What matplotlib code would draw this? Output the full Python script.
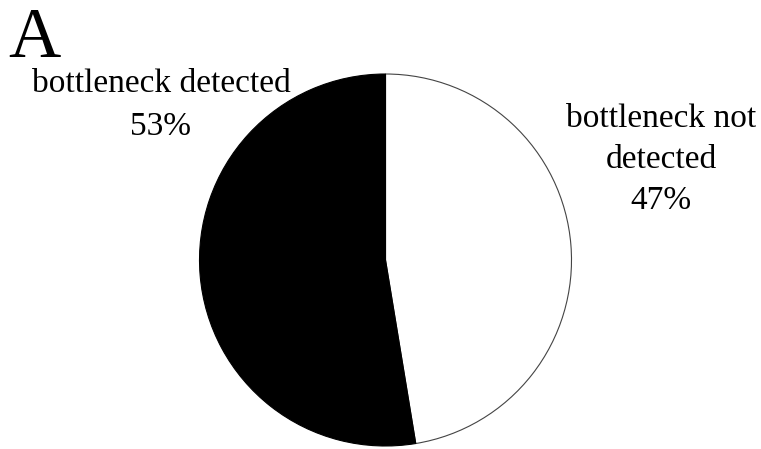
import matplotlib
matplotlib.use("Agg")
import matplotlib.pyplot as plt

labels = ["bottleneck not\ndetected", "bottleneck detected"]
values = [47.4, 52.6]
pct_labels = ["47%", "53%"]
colors = ["white", "black"]
edge_colors = ["#444444", "black"]
panel_letter = "A"

W, H = 761, 449
fig = plt.figure(figsize=(W / 100, H / 100), dpi=100)
plt.rcParams['font.family'] = ['Liberation Serif', 'DejaVu Serif']

cx, cy, r = 385.5, 260, 186
ax = fig.add_axes([(cx - r) / W, (H - cy - r) / H, 2 * r / W, 2 * r / H])
wedges, _ = ax.pie(values, colors=colors, startangle=90, counterclock=False,
                   radius=1.0, wedgeprops=dict(linewidth=0.8))
for w, ec in zip(wedges, edge_colors):
    w.set_edgecolor(ec)
ax.set_xlim(-1.0, 1.0)
ax.set_ylim(-1.0, 1.0)
ax.set_aspect("equal")
ax.axis("off")

def px(x, y):
    return x / W, 1 - y / H

fig.text(*px(661, 160), f"{labels[0]}\n{pct_labels[0]}", ha="center", va="center",
         fontsize=24, linespacing=1.45)
fig.text(*px(161, 105), f"{labels[1]}\n{pct_labels[1]}", ha="center", va="center",
         fontsize=24, linespacing=1.55)
fig.text(*px(8, 57), panel_letter, ha="left", va="baseline", fontsize=52)

fig.savefig("out.png", dpi=100)
